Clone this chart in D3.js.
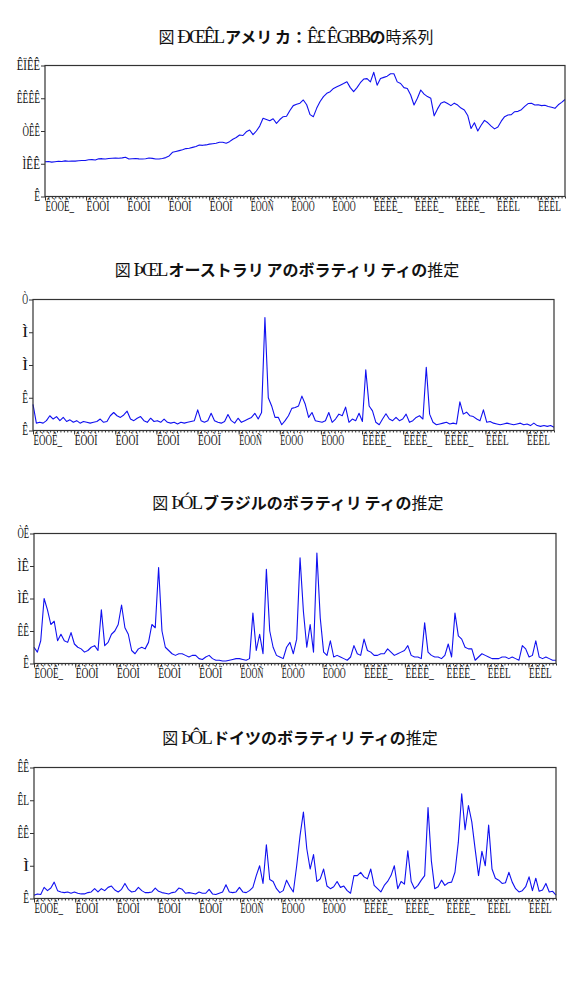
<!DOCTYPE html>
<html>
<head>
<meta charset="utf-8">
<script src="https://cdn.jsdelivr.net/npm/d3@7"></script>
<style>
  body { margin: 0; background: #fff; }
</style>
</head>
<body>
<svg id="chart" width="587" height="991"></svg>
<script>
// 156 samples per series, one row per year (1992 .. 2004)
const spx = [
  425, 428, 420, 425, 430, 428, 435, 430, 434, 432, 436, 440,
  440, 448, 450, 445, 460, 462, 458, 465, 468, 470, 468, 472,
  479, 458, 462, 465, 460, 458, 462, 470, 466, 458, 458, 465,
  475, 495, 540, 550, 560, 570, 585, 590, 600, 610, 629, 625,
  630, 640, 645, 650, 662, 662, 650, 670, 700, 720, 751, 745,
  790, 812, 755, 800, 860, 955, 940, 925, 950, 894, 940, 975,
  980, 1050, 1110, 1126, 1140, 1179, 1120, 1000, 975, 1080, 1160, 1220,
  1260, 1280, 1320, 1340, 1360, 1380, 1402, 1330, 1280, 1330, 1390, 1435,
  1440, 1400, 1517, 1360, 1440, 1455, 1470, 1500, 1500, 1400, 1380, 1330,
  1320, 1240, 1117, 1200, 1301, 1250, 1220, 1199, 985, 1070, 1140, 1158,
  1135, 1110, 1140, 1117, 1080, 1057, 990, 830, 900, 800, 870, 930,
  900, 860, 826, 850, 920, 975, 995, 1000, 1036, 1040, 1060, 1100,
  1135, 1138, 1117, 1120, 1110, 1115, 1100, 1090, 1077, 1120, 1150, 1185
];

const ausVol = [
  1.6, 0.45, 0.5, 0.45, 0.6, 0.9, 0.7, 0.85, 0.6, 0.8, 0.55, 0.65,
  0.5, 0.6, 0.45, 0.55, 0.5, 0.45, 0.5, 0.55, 0.7, 0.5, 0.55, 0.9,
  1.1, 0.9, 0.8, 0.95, 1.18, 0.7, 0.6, 0.75, 0.85, 0.6, 0.5, 0.75,
  0.55, 0.6, 0.5, 0.7, 0.5, 0.45, 0.5, 0.4, 0.5, 0.45, 0.5, 0.55,
  0.6, 1.26, 0.6, 0.5, 0.6, 1.05, 0.6, 0.5, 0.45, 0.55, 0.98, 0.6,
  0.45, 0.75, 0.5, 0.6, 0.7, 0.8, 1.05, 0.7, 1.1, 6.9, 2.0, 1.5,
  0.8, 0.8, 0.35, 0.6, 0.9, 1.35, 1.4, 1.5, 2.1, 1.6, 0.8, 1.1,
  0.6, 0.55, 0.5, 0.6, 1.1, 0.5, 0.7, 1.0, 0.9, 1.43, 0.5, 0.7,
  0.6, 1.05, 0.55, 3.7, 1.5, 1.2, 0.5, 0.35, 0.7, 1.02, 0.7, 0.6,
  0.8, 0.6, 0.7, 1.0, 0.5, 0.6, 0.8, 0.9, 0.7, 3.86, 1.0, 0.5,
  0.35, 0.4, 0.45, 0.5, 0.4, 0.45, 0.4, 1.75, 1.0, 1.12, 0.9, 0.85,
  0.7, 0.6, 1.26, 0.5, 0.55, 0.45, 0.4, 0.35, 0.4, 0.45, 0.4, 0.35,
  0.4, 0.45, 0.35, 0.4, 0.3, 0.45, 0.3, 0.25, 0.3, 0.25, 0.3, 0.2
];

const braVol = [
  10, 7, 14, 40, 33, 24, 26, 14, 18, 14, 13, 19,
  12, 10, 9, 7, 8, 10, 11, 8, 33, 11, 13, 18,
  20, 24, 36, 22, 18, 8, 6, 9, 10, 9, 13, 24,
  22, 59, 20, 10, 8, 6, 5, 6, 6, 5, 4, 5,
  5, 3, 2.5, 4, 5, 3, 2, 2, 1.5, 1.5, 2, 2.5,
  3, 3, 2.5, 2, 3, 31, 8, 18, 6, 58, 20, 10,
  5, 4, 3, 10, 13, 6, 15, 65, 32, 10, 24, 7,
  68, 28, 7, 5, 14, 4, 5, 4, 3, 2, 4, 11,
  6, 5, 15, 8, 7, 5, 5, 6, 6, 9, 7, 5,
  6, 7, 8, 11, 5, 4, 4, 3, 25, 7, 5, 4,
  4, 3, 5, 12, 4, 31, 17, 15, 10, 9, 9, 2,
  4, 6, 5, 4, 3, 3, 3, 4, 4, 3, 4, 3,
  2, 11, 9, 4, 5, 14, 4, 3, 4, 3, 2, 2
];

const gerVol = [
  0.5, 0.7, 0.6, 1.7, 1.2, 1.6, 2.5, 1.2, 1.0, 0.9, 1.0, 0.8,
  1.0, 0.8, 0.7, 0.7, 0.9, 1.0, 1.5, 1.0, 1.5, 1.2, 1.7, 1.9,
  1.3, 1.0, 1.4, 2.3, 1.4, 1.0, 1.1, 1.7, 1.2, 0.9, 0.9, 1.0,
  1.6, 1.1, 0.9, 0.8, 0.7, 0.9, 1.0, 1.6, 1.4, 0.8, 0.9, 0.8,
  0.7, 1.0, 0.8, 0.8, 1.4, 0.7, 0.6, 0.8, 1.0, 2.1, 1.0, 0.9,
  1.0, 1.7, 1.0, 0.9, 1.2, 1.7, 3.5, 5.0, 2.3, 8.2, 2.9, 2.6,
  1.5, 0.9, 1.2, 2.8, 1.8, 1.0, 5.0, 9.6, 13.2, 7.6, 4.5, 6.7,
  2.6, 3.0, 4.5, 1.9, 1.5, 1.8, 2.6, 1.7, 1.9, 1.2, 0.8, 3.5,
  3.5, 4.0, 3.3, 3.0, 4.5, 2.0, 1.5, 1.0, 2.0, 2.6, 3.5, 5.0,
  1.5, 2.6, 2.2, 7.3, 2.6, 1.5, 2.0, 2.8, 3.5, 13.9, 5.7, 1.5,
  1.8, 2.8, 2.0, 2.4, 2.5, 4.0, 8.6, 16.0, 10.5, 14.2, 11.7, 7.5,
  3.5, 7.2, 5.0, 11.2, 4.5, 3.1, 2.8, 2.3, 2.4, 4.0, 2.5, 1.5,
  1.0, 1.2, 1.8, 3.3, 1.2, 3.1, 1.1, 1.3, 2.3, 1.0, 1.1, 0.5
];

// months covered by the 156 samples (axis runs by year)
const spanMonths = 152;

const titles = [
  '図 ÐŒÊL アメリ カ：Ê£ ÊGBBの時系列',
  '図 ÞŒL オーストラリ アのボラティリ ティの推定',
  '図 ÞÓL ブラジルのボラティリ ティの推定',
  '図 ÞÔL ドイツのボラティリ ティの推定'
];

const xTickLabels = ['ÊÒÒÊ_', 'ÊÒÒÌ', 'ÊÒÒÌ', 'ÊÒÒÌ', 'ÊÒÒÏ', 'ÊÒÒÑ', 'ÊÒÒÒ',
                     'ÊÒÒÒ', 'ÊÊÊÊ_', 'ÊÊÊÊ_', 'ÊÊÊÊ_', 'ÊÊÊL', 'ÊÊÊL'];

const spxTicks = [0, 400, 800, 1200, 1600];
const spxTickLabels = ['Ê', 'ÌÊÊ', 'ÒÊÊ', 'ÊÊÊÊ', 'ÊÏÊÊ'];
const ausTicks = [0, 2, 4, 6, 8];
const ausTickLabels = ['Ê', 'Ê', 'Ì', 'Ì', 'Ò'];
const braTicks = [0, 20, 40, 60, 80];
const braTickLabels = ['Ê', 'ÊÊ', 'ÌÊ', 'ÌÊ', 'ÒÊ'];
const gerTicks = [0, 5, 10, 15, 20];
const gerTickLabels = ['Ê', 'Ì', 'ÊÊ', 'ÊL', 'ÊÊ'];

const panels = [
  { title: titles[0], values: spx, ticks: spxTicks, tickLabels: spxTickLabels,
    left: 45, top: 65.5, right: 565, bottom: 196.5, titleX: 296, titleY: 43 },
  { title: titles[1], values: ausVol, ticks: ausTicks, tickLabels: ausTickLabels,
    left: 33, top: 299.5, right: 554, bottom: 430.5, titleX: 287, titleY: 276 },
  { title: titles[2], values: braVol, ticks: braTicks, tickLabels: braTickLabels,
    left: 34, top: 533.5, right: 556, bottom: 663.5, titleX: 298, titleY: 509 },
  { title: titles[3], values: gerVol, ticks: gerTicks, tickLabels: gerTickLabels,
    left: 34, top: 767.5, right: 556, bottom: 898.5, titleX: 300, titleY: 744 }
];

const svg = d3.select('#chart');
const lineColor = '#1010f0';
const axisColor = '#333';
const labelFont = "'Liberation Serif', serif";

// Split a title into runs: kana bold, kanji regular, latin serif
function titleRuns(s) {
  const runs = [];
  for (const ch of s) {
    const kind = /[\u3040-\u30ff\uff1a]/.test(ch) ? 'kana'
      : /[\u4e00-\u9fff]/.test(ch) ? 'kanji' : 'latin';
    const last = runs[runs.length - 1];
    if (last && last.kind === kind) last.text += ch;
    else runs.push({ kind, text: ch });
  }
  return runs;
}

function drawPanel(p) {
  const n = p.values.length;
  const x = d3.scaleLinear().domain([0, spanMonths]).range([p.left, p.right]);
  const y = d3.scaleLinear().domain([p.ticks[0], p.ticks[p.ticks.length - 1]]).range([p.bottom, p.top]);
  const g = svg.append('g');

  // Title
  const t = g.append('text')
    .attr('x', p.titleX)
    .attr('y', p.titleY)
    .attr('text-anchor', 'middle')
    .attr('fill', '#111');
  titleRuns(p.title).forEach(r => {
    const ts = t.append('tspan').text(r.text);
    if (r.kind === 'kana') {
      ts.attr('font-family', "'Noto Sans CJK JP'").attr('font-weight', 700).attr('font-size', 16);
    } else if (r.kind === 'kanji') {
      ts.attr('font-family', "'Noto Sans CJK JP'").attr('font-weight', 400).attr('font-size', 16);
    } else {
      ts.attr('font-family', labelFont).attr('font-size', 19).attr('letter-spacing', -2);
    }
  });

  // Minor ticks (monthly)
  const minor = g.append('g')
    .attr('transform', `translate(0,${p.bottom})`)
    .call(d3.axisBottom(x).tickValues(d3.range(0, spanMonths + 1)).tickSize(2).tickFormat(''));
  minor.select('.domain').remove();

  // Major ticks (yearly) with labels
  const major = g.append('g')
    .attr('transform', `translate(0,${p.bottom})`)
    .call(d3.axisBottom(x).tickValues(d3.range(0, spanMonths + 1, 12)).tickSize(4).tickPadding(1)
      .tickFormat((d, i) => xTickLabels[i]));
  major.select('.domain').remove();
  major.selectAll('text')
    .attr('text-anchor', 'start')
    .attr('font-family', labelFont)
    .attr('font-size', 14)
    .attr('fill', '#111')
    .attr('textLength', d => xTickLabels[d / 12].length * 5.7)
    .attr('lengthAdjust', 'spacingAndGlyphs');

  // Y axis
  const yAxis = g.append('g')
    .attr('transform', `translate(${p.left},0)`)
    .call(d3.axisLeft(y).tickValues(p.ticks).tickSize(4).tickPadding(1)
      .tickFormat((d, i) => p.tickLabels[i]));
  yAxis.select('.domain').remove();
  yAxis.selectAll('text')
    .attr('font-family', labelFont)
    .attr('font-size', 14)
    .attr('fill', '#111')
    .attr('textLength', (d, i) => p.tickLabels[i].length * 5.8)
    .attr('lengthAdjust', 'spacingAndGlyphs');

  g.selectAll('.tick line').attr('stroke', axisColor);

  // Series
  const line = d3.line()
    .x((d, i) => x(i * spanMonths / (n - 1)))
    .y(d => y(d));
  g.append('path')
    .datum(p.values)
    .attr('d', line)
    .attr('fill', 'none')
    .attr('stroke', lineColor)
    .attr('stroke-width', 1.1)
    .attr('stroke-linejoin', 'round');

  // Frame
  g.append('rect')
    .attr('x', p.left)
    .attr('y', p.top)
    .attr('width', p.right - p.left)
    .attr('height', p.bottom - p.top)
    .attr('fill', 'none')
    .attr('stroke', axisColor)
    .attr('stroke-width', 1.2);
}

panels.forEach(drawPanel);
</script>
</body>
</html>
